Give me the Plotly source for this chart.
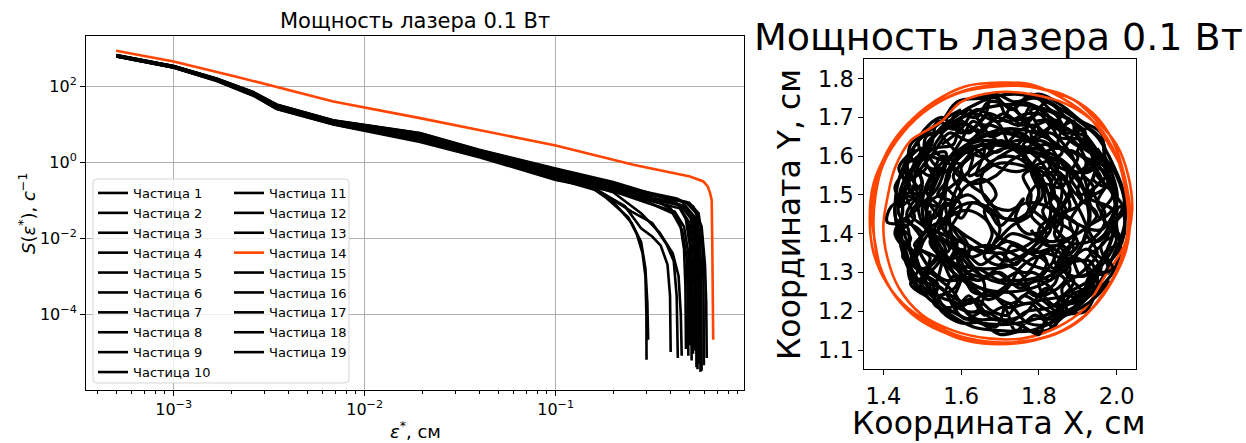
import plotly.graph_objects as go

W, H = 1246, 443
BLACK = "#000000"
ORANGE = "#ff4500"
FONT = "DejaVu Sans"

NAMES = ["Частица %d" % i for i in range(1, 20)]
HIGHLIGHT = 14

# ---------------- S(eps) curves ----------------
EPS_BULK = [5.0e-4, 1.0e-3, 1.68e-3, 2.61e-3, 3.46e-3, 6.85e-3, 1.95e-2, 3.98e-2, 1.0e-1]

S_BULK_1 = [650, 335, 155, 68, 32, 12.3, 5.6, 2.0, 0.62]
S_BULK_2 = [610, 310, 140, 58, 26, 10.2, 3.85, 1.48, 0.40]
S_BULK_3 = [640, 330, 152, 66, 30.5, 11.8, 5.15, 1.86, 0.56]
S_BULK_4 = [600, 305, 136, 56, 25, 9.8, 3.4, 1.35, 0.34]
S_BULK_5 = [660, 340, 158, 70, 33, 12.6, 5.8, 2.1, 0.68]
S_BULK_6 = [620, 318, 145, 61, 27.5, 10.8, 4.27, 1.63, 0.46]
S_BULK_7 = [635, 326, 150, 64, 29.5, 11.5, 4.93, 1.82, 0.53]
S_BULK_8 = [615, 312, 142, 60, 27, 10.5, 4.05, 1.54, 0.40]
S_BULK_9 = [645, 332, 153, 67, 31, 12.0, 5.36, 1.93, 0.59]
S_BULK_10 = [625, 320, 146, 62, 28, 11.0, 4.5, 1.69, 0.50]
S_BULK_11 = [655, 338, 156, 69, 32.5, 12.4, 5.7, 2.04, 0.65]
S_BULK_12 = [605, 308, 138, 57, 25.5, 10.0, 3.62, 1.41, 0.37]
S_BULK_13 = [630, 322, 148, 63, 29, 11.2, 4.7, 1.76, 0.50]
S_BULK_15 = [612, 314, 143, 59, 26.5, 10.4, 3.95, 1.52, 0.43]
S_BULK_16 = [642, 331, 151, 65, 30, 11.7, 5.04, 1.88, 0.56]
S_BULK_17 = [618, 316, 144, 60.5, 27.2, 10.6, 4.16, 1.59, 0.45]
S_BULK_18 = [648, 334, 154, 67.5, 31.5, 12.1, 5.47, 1.97, 0.62]
S_BULK_19 = [628, 321, 147, 62.5, 28.5, 11.1, 4.53, 1.71, 0.50]

TAIL_EPS_1 = [0.2, 0.3, 0.4, 0.45, 0.47, 0.478, 0.481]
TAIL_S_1 = [0.26, 0.13, 0.06, 0.022, 0.005, 5e-4, 1.2e-5]
TAIL_EPS_2 = [0.2, 0.3, 0.41, 0.46, 0.485, 0.492, 0.495]
TAIL_S_2 = [0.19, 0.09, 0.045, 0.016, 0.003, 3e-4, 8e-6]
TAIL_EPS_3 = [0.14, 0.182, 0.24, 0.266, 0.285, 0.295, 0.2985, 0.299]
TAIL_S_3 = [0.3, 0.12, 0.035, 0.0126, 0.004, 1e-3, 1e-4, 6.3e-6]
TAIL_EPS_4 = [0.2, 0.3, 0.42, 0.47, 0.495, 0.502, 0.505]
TAIL_S_4 = [0.17, 0.085, 0.05, 0.02, 0.004, 4e-4, 1.5e-5]
TAIL_EPS_5 = [0.2, 0.3, 0.43, 0.48, 0.505, 0.512, 0.515]
TAIL_S_5 = [0.30, 0.16, 0.085, 0.032, 0.006, 6e-4, 6e-6]
TAIL_EPS_6 = [0.16, 0.23, 0.28, 0.32, 0.355, 0.385, 0.397, 0.40]
TAIL_S_6 = [0.2, 0.07, 0.018, 0.011, 0.0063, 0.002, 3e-4, 1e-5]
TAIL_EPS_7 = [0.2, 0.3, 0.44, 0.49, 0.513, 0.521, 0.524]
TAIL_S_7 = [0.24, 0.13, 0.075, 0.028, 0.005, 4e-4, 9e-6]
TAIL_EPS_8 = [0.2, 0.3, 0.45, 0.5, 0.525, 0.533, 0.536]
TAIL_S_8 = [0.19, 0.10, 0.06, 0.026, 0.006, 5e-4, 1.1e-5]
TAIL_EPS_9 = [0.14, 0.2, 0.25, 0.28, 0.295, 0.302, 0.305]
TAIL_S_9 = [0.3, 0.09, 0.025, 0.0079, 0.0016, 2e-4, 2.1e-5]
TAIL_EPS_10 = [0.2, 0.3, 0.45, 0.51, 0.535, 0.543, 0.546]
TAIL_S_10 = [0.23, 0.125, 0.075, 0.033, 0.007, 6e-4, 4e-6]
TAIL_EPS_11 = [0.2, 0.3, 0.46, 0.52, 0.542, 0.55, 0.553]
TAIL_S_11 = [0.28, 0.155, 0.09, 0.04, 0.008, 7e-4, 3.5e-6]
TAIL_EPS_12 = [0.17, 0.25, 0.32, 0.38, 0.415, 0.43, 0.436]
TAIL_S_12 = [0.17, 0.05, 0.025, 0.007, 0.0025, 3e-4, 7e-6]
TAIL_EPS_13 = [0.2, 0.3, 0.47, 0.53, 0.551, 0.559, 0.562]
TAIL_S_13 = [0.22, 0.12, 0.07, 0.033, 0.007, 6e-4, 5e-6]
TAIL_EPS_15 = [0.2, 0.3, 0.48, 0.54, 0.562, 0.57, 0.573]
TAIL_S_15 = [0.2, 0.11, 0.068, 0.034, 0.008, 7e-4, 3e-6]
TAIL_EPS_16 = [0.2, 0.3, 0.48, 0.545, 0.57, 0.578, 0.581]
TAIL_S_16 = [0.27, 0.15, 0.09, 0.045, 0.01, 8e-4, 3.2e-6]
TAIL_EPS_17 = [0.2, 0.28, 0.35, 0.41, 0.44, 0.452, 0.457]
TAIL_S_17 = [0.16, 0.045, 0.014, 0.004, 0.001, 1e-4, 8e-6]
TAIL_EPS_18 = [0.2, 0.3, 0.5, 0.56, 0.585, 0.594, 0.597]
TAIL_S_18 = [0.26, 0.15, 0.085, 0.045, 0.01, 8e-4, 4.5e-6]
TAIL_EPS_19 = [0.2, 0.3, 0.43, 0.525, 0.581, 0.605, 0.614, 0.618]
TAIL_S_19 = [0.25, 0.16, 0.11, 0.068, 0.02, 2e-3, 2e-4, 7e-6]

EPS_14 = [5.0e-4, 1.0e-3, 2.05e-3, 3.46e-3, 6.85e-3, 1.95e-2, 1.0e-1, 2.55e-1,
          5.05e-1, 5.93e-1, 6.25e-1, 6.43e-1, 6.56e-1, 6.60e-1, 6.64e-1, 6.68e-1]
S_14 = [851, 447, 186, 93, 39.4, 14.4, 2.75, 0.85,
        0.42, 0.31, 0.23, 0.155, 0.1, 1.0e-2, 1.0e-3, 2.1e-5]

# ---------------- trajectories (x, y), cm ----------------
TRAJ_1 = [(2.00, 1.45), (1.98, 1.55), (1.94, 1.63), (1.87, 1.70), (1.78, 1.73), (1.69, 1.73),
          (1.60, 1.70), (1.52, 1.64), (1.47, 1.56), (1.45, 1.47), (1.45, 1.37), (1.49, 1.28),
          (1.56, 1.21), (1.65, 1.17), (1.75, 1.17), (1.84, 1.20), (1.92, 1.26), (1.97, 1.34),
          (2.00, 1.44), (1.99, 1.53), (1.95, 1.60), (1.90, 1.65), (1.89, 1.69), (1.84, 1.67),
          (1.80, 1.71), (1.76, 1.68), (1.71, 1.71), (1.66, 1.68), (1.62, 1.72), (1.58, 1.67),
          (1.54, 1.69), (1.52, 1.62), (1.48, 1.59), (1.50, 1.53), (1.46, 1.50), (1.48, 1.44),
          (1.44, 1.40), (1.48, 1.35), (1.50, 1.30), (1.54, 1.27), (1.53, 1.22), (1.58, 1.20),
          (1.62, 1.24), (1.66, 1.19), (1.71, 1.21), (1.74, 1.15), (1.79, 1.19), (1.84, 1.16),
          (1.86, 1.22), (1.91, 1.23), (1.93, 1.29), (1.98, 1.30), (1.96, 1.37), (2.01, 1.40)]
TRAJ_2 = [(1.55, 1.66), (1.63, 1.71), (1.70, 1.69), (1.74, 1.74), (1.82, 1.71), (1.85, 1.65),
          (1.92, 1.64), (1.95, 1.57), (1.92, 1.50), (1.99, 1.46), (1.97, 1.38), (1.92, 1.33),
          (1.94, 1.25), (1.87, 1.22), (1.82, 1.26), (1.76, 1.19), (1.68, 1.18), (1.63, 1.23),
          (1.56, 1.21), (1.52, 1.28), (1.47, 1.33), (1.50, 1.40), (1.44, 1.45), (1.46, 1.53),
          (1.51, 1.57), (1.49, 1.64), (1.55, 1.70), (1.60, 1.66), (1.66, 1.70), (1.68, 1.76),
          (1.73, 1.72), (1.78, 1.76), (1.83, 1.72), (1.89, 1.68), (1.86, 1.62), (1.80, 1.64),
          (1.76, 1.60), (1.80, 1.55), (1.85, 1.56), (1.88, 1.50), (1.84, 1.44), (1.89, 1.40),
          (1.86, 1.34), (1.81, 1.35), (1.77, 1.30), (1.71, 1.32), (1.66, 1.29), (1.60, 1.31),
          (1.58, 1.37), (1.53, 1.40), (1.55, 1.46), (1.51, 1.51), (1.55, 1.57)]
TRAJ_3 = [(1.82, 1.47), (1.80, 1.55), (1.75, 1.61), (1.67, 1.63), (1.59, 1.61), (1.53, 1.56),
          (1.50, 1.48), (1.52, 1.39), (1.57, 1.33), (1.65, 1.31), (1.73, 1.32), (1.79, 1.37),
          (1.83, 1.45), (1.81, 1.54), (1.76, 1.60), (1.68, 1.64), (1.60, 1.62), (1.54, 1.55),
          (1.51, 1.46), (1.54, 1.38), (1.58, 1.32), (1.63, 1.27), (1.69, 1.25), (1.74, 1.28),
          (1.79, 1.24), (1.84, 1.27), (1.86, 1.33), (1.90, 1.37), (1.88, 1.43), (1.91, 1.49),
          (1.88, 1.55), (1.90, 1.60), (1.84, 1.63), (1.79, 1.68), (1.73, 1.66), (1.67, 1.68),
          (1.62, 1.64), (1.57, 1.66), (1.53, 1.61), (1.49, 1.56)]
TRAJ_4 = [(1.84, 1.50), (1.81, 1.58), (1.74, 1.63), (1.66, 1.63), (1.59, 1.59), (1.56, 1.51),
          (1.57, 1.43), (1.62, 1.37), (1.70, 1.35), (1.77, 1.37), (1.83, 1.43), (1.86, 1.51),
          (1.83, 1.59), (1.77, 1.64), (1.70, 1.66), (1.62, 1.63), (1.57, 1.57), (1.55, 1.49),
          (1.52, 1.42), (1.55, 1.35), (1.51, 1.30), (1.56, 1.25), (1.62, 1.22), (1.67, 1.25),
          (1.72, 1.21), (1.78, 1.22), (1.82, 1.18), (1.87, 1.20), (1.86, 1.26), (1.91, 1.30),
          (1.95, 1.35), (1.92, 1.41), (1.97, 1.45), (1.94, 1.51), (1.98, 1.56), (1.93, 1.61),
          (1.88, 1.64), (1.85, 1.69), (1.79, 1.69)]
TRAJ_5 = [(1.52, 1.46), (1.53, 1.37), (1.58, 1.30), (1.65, 1.26), (1.73, 1.25), (1.81, 1.27),
          (1.88, 1.32), (1.92, 1.40), (1.93, 1.48), (1.91, 1.56), (1.86, 1.62), (1.79, 1.66),
          (1.71, 1.67), (1.63, 1.64), (1.57, 1.59), (1.53, 1.52), (1.51, 1.44), (1.54, 1.35),
          (1.50, 1.31), (1.47, 1.36), (1.45, 1.43), (1.49, 1.47), (1.46, 1.53), (1.49, 1.58),
          (1.53, 1.62), (1.58, 1.63), (1.60, 1.69), (1.65, 1.66), (1.69, 1.70), (1.75, 1.68),
          (1.78, 1.73), (1.84, 1.69), (1.89, 1.66), (1.93, 1.62), (1.95, 1.55), (1.99, 1.50),
          (1.96, 1.45), (2.00, 1.39), (1.97, 1.33), (1.93, 1.28), (1.88, 1.25), (1.83, 1.21),
          (1.77, 1.20), (1.72, 1.17), (1.66, 1.20), (1.61, 1.18), (1.57, 1.23)]
TRAJ_6 = [(1.47, 1.60), (1.50, 1.52), (1.46, 1.45), (1.50, 1.38), (1.47, 1.30), (1.53, 1.27),
          (1.56, 1.34), (1.60, 1.29), (1.58, 1.22), (1.64, 1.20), (1.66, 1.27), (1.62, 1.33),
          (1.57, 1.40), (1.60, 1.47), (1.56, 1.53), (1.59, 1.60), (1.55, 1.66), (1.62, 1.68),
          (1.66, 1.62), (1.64, 1.55), (1.69, 1.58), (1.74, 1.58), (1.79, 1.56), (1.81, 1.50),
          (1.78, 1.45), (1.82, 1.40), (1.78, 1.35), (1.73, 1.37), (1.70, 1.32), (1.66, 1.34),
          (1.68, 1.40), (1.66, 1.46), (1.69, 1.50), (1.66, 1.54), (1.61, 1.52), (1.58, 1.47),
          (1.55, 1.42), (1.59, 1.38), (1.57, 1.33), (1.60, 1.36), (1.65, 1.32), (1.70, 1.35),
          (1.74, 1.32), (1.78, 1.36), (1.82, 1.33), (1.80, 1.29), (1.75, 1.28), (1.70, 1.28)]
TRAJ_7 = [(1.88, 1.70), (1.85, 1.63), (1.91, 1.60), (1.96, 1.54), (1.90, 1.50), (1.86, 1.55),
          (1.83, 1.48), (1.89, 1.43), (1.96, 1.41), (2.01, 1.47), (2.02, 1.40), (1.98, 1.33),
          (1.92, 1.36), (1.87, 1.30), (1.91, 1.25), (1.85, 1.21), (1.80, 1.27), (1.84, 1.34),
          (1.80, 1.41), (1.85, 1.45), (1.90, 1.47), (1.94, 1.52), (1.91, 1.56), (1.95, 1.60),
          (1.92, 1.65), (1.87, 1.67), (1.84, 1.71), (1.78, 1.72), (1.80, 1.66), (1.76, 1.63),
          (1.82, 1.60), (1.87, 1.58), (1.86, 1.52), (1.80, 1.53), (1.77, 1.48), (1.81, 1.44),
          (1.86, 1.39), (1.84, 1.33), (1.89, 1.29), (1.95, 1.31), (1.99, 1.36)]
TRAJ_8 = [(1.55, 1.63), (1.60, 1.67), (1.64, 1.72), (1.70, 1.68), (1.73, 1.62), (1.77, 1.67),
          (1.74, 1.73), (1.80, 1.75), (1.86, 1.71), (1.82, 1.66), (1.86, 1.61), (1.80, 1.58),
          (1.74, 1.56), (1.68, 1.58), (1.63, 1.62), (1.58, 1.57), (1.63, 1.53), (1.69, 1.55),
          (1.73, 1.59), (1.78, 1.61), (1.83, 1.58), (1.80, 1.53), (1.85, 1.48), (1.83, 1.42),
          (1.77, 1.40), (1.74, 1.44), (1.76, 1.49), (1.70, 1.42), (1.67, 1.46), (1.63, 1.48),
          (1.60, 1.44), (1.56, 1.48), (1.53, 1.44), (1.50, 1.48), (1.48, 1.54), (1.51, 1.60),
          (1.56, 1.59), (1.60, 1.64), (1.63, 1.69), (1.67, 1.66), (1.71, 1.63), (1.75, 1.66),
          (1.80, 1.62), (1.84, 1.56), (1.88, 1.52), (1.86, 1.46), (1.90, 1.42), (1.87, 1.38),
          (1.82, 1.37), (1.78, 1.41)]
TRAJ_9 = [(1.52, 1.30), (1.58, 1.25), (1.62, 1.19), (1.69, 1.16), (1.72, 1.22), (1.77, 1.17),
          (1.83, 1.17), (1.85, 1.23), (1.80, 1.28), (1.75, 1.26), (1.70, 1.30), (1.64, 1.28),
          (1.60, 1.34), (1.67, 1.37), (1.73, 1.35), (1.78, 1.32), (1.86, 1.29), (1.90, 1.24),
          (1.94, 1.29), (1.89, 1.34), (1.84, 1.31), (1.80, 1.34), (1.75, 1.31), (1.72, 1.26),
          (1.67, 1.23), (1.63, 1.26), (1.58, 1.29), (1.55, 1.24), (1.51, 1.27), (1.53, 1.33),
          (1.57, 1.36), (1.54, 1.41), (1.58, 1.45), (1.62, 1.46), (1.66, 1.44), (1.70, 1.39),
          (1.75, 1.37), (1.80, 1.34), (1.85, 1.37), (1.88, 1.33), (1.93, 1.33), (1.95, 1.27),
          (1.89, 1.22)]
TRAJ_10 = [(1.46, 1.50), (1.55, 1.47), (1.62, 1.50), (1.68, 1.45), (1.75, 1.44), (1.80, 1.50),
           (1.78, 1.57), (1.84, 1.62), (1.92, 1.59), (1.90, 1.50), (1.95, 1.45), (1.88, 1.39),
           (1.80, 1.38), (1.73, 1.40), (1.68, 1.36), (1.62, 1.39), (1.55, 1.43), (1.49, 1.38),
           (1.52, 1.31), (1.56, 1.28), (1.61, 1.28), (1.66, 1.24), (1.72, 1.25), (1.76, 1.22),
           (1.81, 1.23), (1.86, 1.24), (1.89, 1.28), (1.85, 1.32), (1.88, 1.37), (1.93, 1.38),
           (1.97, 1.43), (1.95, 1.48), (1.98, 1.54), (1.96, 1.58), (1.91, 1.56), (1.88, 1.61),
           (1.83, 1.66), (1.78, 1.64), (1.73, 1.67), (1.68, 1.65), (1.64, 1.67)]
TRAJ_11 = [(1.60, 1.72), (1.52, 1.67), (1.47, 1.61), (1.44, 1.54), (1.43, 1.46), (1.44, 1.39),
           (1.46, 1.32), (1.50, 1.25), (1.56, 1.20), (1.63, 1.16), (1.70, 1.15), (1.78, 1.15),
           (1.85, 1.18), (1.91, 1.22), (1.96, 1.28), (1.99, 1.34), (2.02, 1.42), (2.02, 1.50),
           (1.99, 1.58), (1.95, 1.65), (1.89, 1.70), (1.82, 1.74), (1.74, 1.76), (1.66, 1.75),
           (1.59, 1.74), (1.55, 1.69), (1.51, 1.66), (1.47, 1.63), (1.46, 1.57), (1.43, 1.52),
           (1.45, 1.46), (1.43, 1.40), (1.46, 1.35), (1.47, 1.28), (1.52, 1.25), (1.55, 1.20),
           (1.60, 1.17), (1.65, 1.17), (1.70, 1.14), (1.76, 1.15), (1.82, 1.15), (1.87, 1.19),
           (1.92, 1.20), (1.95, 1.25), (1.99, 1.30), (2.01, 1.36), (2.00, 1.43), (2.02, 1.48),
           (2.00, 1.55), (1.97, 1.60), (1.96, 1.66), (1.91, 1.69), (1.86, 1.73), (1.80, 1.76),
           (1.74, 1.74), (1.69, 1.76), (1.63, 1.75)]
TRAJ_12 = [(1.93, 1.44), (1.91, 1.53), (1.86, 1.59), (1.79, 1.62), (1.71, 1.62), (1.64, 1.58),
           (1.59, 1.52), (1.57, 1.44), (1.59, 1.36), (1.64, 1.30), (1.72, 1.27), (1.80, 1.28),
           (1.87, 1.32), (1.92, 1.39), (1.93, 1.47), (1.89, 1.55), (1.84, 1.58), (1.80, 1.63),
           (1.74, 1.64), (1.69, 1.61), (1.65, 1.63), (1.61, 1.59), (1.58, 1.55), (1.60, 1.50),
           (1.55, 1.46), (1.56, 1.40), (1.61, 1.37), (1.59, 1.31), (1.64, 1.28), (1.69, 1.30),
           (1.74, 1.27), (1.78, 1.30), (1.83, 1.28), (1.85, 1.33), (1.89, 1.36), (1.84, 1.42),
           (1.88, 1.47), (1.85, 1.53), (1.81, 1.57), (1.76, 1.55), (1.78, 1.50), (1.76, 1.44),
           (1.71, 1.44), (1.66, 1.50), (1.62, 1.53), (1.60, 1.57), (1.64, 1.61), (1.69, 1.63)]
TRAJ_13 = [(1.50, 1.58), (1.56, 1.56), (1.60, 1.61), (1.66, 1.60), (1.70, 1.64), (1.76, 1.61),
           (1.82, 1.63), (1.87, 1.57), (1.93, 1.56), (1.97, 1.62), (1.93, 1.67), (1.87, 1.66),
           (1.83, 1.70), (1.77, 1.71), (1.72, 1.69), (1.67, 1.71), (1.62, 1.66), (1.57, 1.69),
           (1.53, 1.65), (1.50, 1.60), (1.47, 1.55), (1.50, 1.50), (1.47, 1.45), (1.51, 1.41),
           (1.48, 1.37), (1.52, 1.34), (1.50, 1.28), (1.55, 1.26), (1.59, 1.21), (1.64, 1.23),
           (1.68, 1.20), (1.72, 1.19), (1.76, 1.24), (1.81, 1.21), (1.85, 1.19), (1.88, 1.24),
           (1.92, 1.26), (1.96, 1.31), (1.93, 1.36), (1.97, 1.40), (1.99, 1.45)]
TRAJ_14 = [(2.03, 1.45), (2.02, 1.55), (1.98, 1.63), (1.93, 1.70), (1.86, 1.75), (1.78, 1.785),
           (1.70, 1.79), (1.61, 1.78), (1.53, 1.74), (1.46, 1.68), (1.41, 1.61), (1.375, 1.53),
           (1.365, 1.44), (1.375, 1.35), (1.41, 1.27), (1.46, 1.21), (1.53, 1.16), (1.61, 1.125),
           (1.70, 1.115), (1.79, 1.125), (1.87, 1.155), (1.94, 1.21), (1.99, 1.28), (2.025, 1.36),
           (2.035, 1.45), (2.02, 1.55), (1.99, 1.64), (1.94, 1.71), (1.86, 1.76), (1.77, 1.78),
           (1.69, 1.78), (1.60, 1.765), (1.52, 1.725), (1.45, 1.66), (1.40, 1.58), (1.38, 1.50),
           (1.375, 1.41), (1.39, 1.32), (1.43, 1.24), (1.49, 1.18), (1.57, 1.14), (1.66, 1.12),
           (1.75, 1.12), (1.84, 1.14), (1.91, 1.18), (1.97, 1.25), (2.01, 1.33), (2.03, 1.42),
           (2.025, 1.50), (2.00, 1.60), (1.95, 1.68), (1.87, 1.735), (1.78, 1.76), (1.69, 1.765),
           (1.60, 1.74), (1.55, 1.69), (1.50, 1.66), (1.47, 1.64), (1.43, 1.57), (1.41, 1.49),
           (1.40, 1.42), (1.41, 1.34), (1.44, 1.26), (1.50, 1.19), (1.58, 1.15), (1.67, 1.13),
           (1.76, 1.13), (1.85, 1.16), (1.92, 1.21), (1.97, 1.29), (2.02, 1.37), (2.04, 1.46),
           (2.03, 1.55), (2.00, 1.63), (1.95, 1.69), (1.89, 1.745), (1.80, 1.775), (1.72, 1.785),
           (1.63, 1.775), (1.55, 1.745), (1.48, 1.70), (1.42, 1.63), (1.385, 1.55), (1.37, 1.46),
           (1.38, 1.37), (1.40, 1.29), (1.45, 1.22), (1.52, 1.17), (1.60, 1.135), (1.69, 1.12),
           (1.78, 1.125), (1.86, 1.15), (1.93, 1.20), (1.98, 1.27)]
TRAJ_15 = [(1.49, 1.36), (1.55, 1.33), (1.58, 1.28), (1.64, 1.31), (1.70, 1.28), (1.75, 1.30),
           (1.79, 1.24), (1.85, 1.26), (1.88, 1.31), (1.84, 1.36), (1.78, 1.35), (1.72, 1.38),
           (1.66, 1.35), (1.60, 1.38), (1.55, 1.40), (1.50, 1.43), (1.48, 1.49), (1.44, 1.47),
           (1.45, 1.53), (1.48, 1.57), (1.52, 1.55), (1.55, 1.60), (1.60, 1.58), (1.63, 1.60),
           (1.62, 1.55), (1.66, 1.57), (1.70, 1.60), (1.75, 1.62), (1.78, 1.58), (1.82, 1.55),
           (1.84, 1.50), (1.81, 1.46), (1.83, 1.41), (1.79, 1.37), (1.75, 1.34), (1.71, 1.33),
           (1.68, 1.36), (1.70, 1.41), (1.68, 1.46), (1.63, 1.48), (1.58, 1.46), (1.56, 1.41),
           (1.58, 1.36), (1.63, 1.34), (1.68, 1.37), (1.73, 1.42), (1.78, 1.45), (1.80, 1.52),
           (1.77, 1.58), (1.72, 1.60), (1.67, 1.58), (1.65, 1.53), (1.67, 1.48), (1.72, 1.46),
           (1.77, 1.48), (1.82, 1.47), (1.86, 1.43), (1.84, 1.38), (1.79, 1.40)]
TRAJ_16 = [(1.95, 1.62), (1.99, 1.55), (2.00, 1.48), (1.96, 1.44), (1.93, 1.49), (1.97, 1.52),
           (1.93, 1.57), (1.88, 1.53), (1.91, 1.45), (1.95, 1.38), (1.99, 1.41), (1.96, 1.33),
           (1.91, 1.29), (1.88, 1.35), (1.84, 1.40), (1.87, 1.46), (1.83, 1.52), (1.85, 1.58),
           (1.81, 1.61), (1.78, 1.66), (1.82, 1.69), (1.86, 1.66), (1.90, 1.63), (1.93, 1.58),
           (1.97, 1.56), (1.99, 1.51), (2.02, 1.46), (1.99, 1.42), (2.01, 1.38), (1.97, 1.35),
           (1.99, 1.31), (1.94, 1.29), (1.92, 1.24), (1.87, 1.24)]
TRAJ_17 = [(1.48, 1.62), (1.45, 1.55), (1.49, 1.50), (1.53, 1.54), (1.51, 1.59), (1.56, 1.61),
           (1.54, 1.52), (1.48, 1.46), (1.44, 1.41), (1.48, 1.35), (1.52, 1.40), (1.56, 1.36),
           (1.52, 1.30), (1.48, 1.27), (1.54, 1.24), (1.59, 1.27), (1.57, 1.33), (1.62, 1.35),
           (1.60, 1.40), (1.55, 1.44), (1.52, 1.48), (1.56, 1.51), (1.60, 1.55), (1.57, 1.58),
           (1.53, 1.62), (1.55, 1.66), (1.50, 1.65), (1.47, 1.61), (1.44, 1.57), (1.46, 1.52),
           (1.43, 1.47), (1.44, 1.42), (1.47, 1.39), (1.45, 1.34), (1.49, 1.31), (1.47, 1.27),
           (1.51, 1.24)]
TRAJ_18 = [(1.48, 1.55), (1.51, 1.63), (1.57, 1.69), (1.63, 1.73), (1.69, 1.75), (1.72, 1.70),
           (1.78, 1.70), (1.82, 1.74), (1.87, 1.70), (1.92, 1.66), (1.90, 1.61), (1.95, 1.58),
           (1.98, 1.52), (1.94, 1.54), (1.96, 1.60), (1.92, 1.62), (1.89, 1.66), (1.84, 1.68),
           (1.80, 1.66), (1.76, 1.70), (1.72, 1.73), (1.67, 1.74), (1.64, 1.70), (1.59, 1.71),
           (1.56, 1.67), (1.51, 1.65), (1.50, 1.60), (1.46, 1.58), (1.47, 1.52)]
TRAJ_19 = [(1.97, 1.35), (1.94, 1.27), (1.89, 1.21), (1.82, 1.18), (1.80, 1.14), (1.76, 1.16),
           (1.70, 1.18), (1.64, 1.18), (1.59, 1.22), (1.54, 1.24), (1.50, 1.29), (1.47, 1.35),
           (1.46, 1.42), (1.41, 1.43), (1.42, 1.47), (1.45, 1.49), (1.48, 1.53), (1.46, 1.58),
           (1.50, 1.62), (1.53, 1.58), (1.57, 1.55), (1.54, 1.50), (1.58, 1.48), (1.56, 1.43),
           (1.52, 1.38), (1.56, 1.33), (1.60, 1.30), (1.63, 1.25), (1.68, 1.24), (1.73, 1.22),
           (1.78, 1.25), (1.82, 1.22), (1.86, 1.19), (1.91, 1.21), (1.95, 1.24), (1.98, 1.28)]

TRAJ = [TRAJ_1, TRAJ_2, TRAJ_3, TRAJ_4, TRAJ_5, TRAJ_6, TRAJ_7, TRAJ_8, TRAJ_9, TRAJ_10,
        TRAJ_11, TRAJ_12, TRAJ_13, TRAJ_14, TRAJ_15, TRAJ_16, TRAJ_17, TRAJ_18, TRAJ_19]

S_BULK = {1: S_BULK_1, 2: S_BULK_2, 3: S_BULK_3, 4: S_BULK_4, 5: S_BULK_5, 6: S_BULK_6,
          7: S_BULK_7, 8: S_BULK_8, 9: S_BULK_9, 10: S_BULK_10, 11: S_BULK_11, 12: S_BULK_12,
          13: S_BULK_13, 15: S_BULK_15, 16: S_BULK_16, 17: S_BULK_17, 18: S_BULK_18, 19: S_BULK_19}
TAIL_EPS = {1: TAIL_EPS_1, 2: TAIL_EPS_2, 3: TAIL_EPS_3, 4: TAIL_EPS_4, 5: TAIL_EPS_5,
            6: TAIL_EPS_6, 7: TAIL_EPS_7, 8: TAIL_EPS_8, 9: TAIL_EPS_9, 10: TAIL_EPS_10,
            11: TAIL_EPS_11, 12: TAIL_EPS_12, 13: TAIL_EPS_13, 15: TAIL_EPS_15,
            16: TAIL_EPS_16, 17: TAIL_EPS_17, 18: TAIL_EPS_18, 19: TAIL_EPS_19}
TAIL_S = {1: TAIL_S_1, 2: TAIL_S_2, 3: TAIL_S_3, 4: TAIL_S_4, 5: TAIL_S_5, 6: TAIL_S_6,
          7: TAIL_S_7, 8: TAIL_S_8, 9: TAIL_S_9, 10: TAIL_S_10, 11: TAIL_S_11, 12: TAIL_S_12,
          13: TAIL_S_13, 15: TAIL_S_15, 16: TAIL_S_16, 17: TAIL_S_17, 18: TAIL_S_18, 19: TAIL_S_19}

# ---------------- figure ----------------
fig = go.Figure()

for i in range(1, 20):
    color = ORANGE if i == HIGHLIGHT else BLACK
    if i == HIGHLIGHT:
        eps, s = EPS_14, S_14
    else:
        eps, s = EPS_BULK + TAIL_EPS[i], S_BULK[i] + TAIL_S[i]
    fig.add_trace(go.Scatter(
        x=eps, y=s, mode="lines", name=NAMES[i - 1],
        line=dict(color=color, width=2.6),
        legend="legend" if i <= 10 else "legend2",
        xaxis="x", yaxis="y",
    ))

for i in range(1, 20):
    color = ORANGE if i == HIGHLIGHT else BLACK
    xs, ys = zip(*TRAJ[i - 1])
    fig.add_trace(go.Scatter(
        x=list(xs), y=list(ys), mode="lines", showlegend=False,
        line=dict(color=color, width=3.2 if i != HIGHLIGHT else 2.6,
                  shape="spline", smoothing=1.0),
        xaxis="x2", yaxis="y2",
    ))

def px(x):
    return x / W

def py(y):
    return 1 - y / H

MINOR = [m * 10.0 ** e for e in (-4, -3, -2, -1) for m in range(2, 10)]

axis_common = dict(showline=True, linecolor="#000", linewidth=1, mirror=True,
                   ticks="outside", ticklen=5, tickwidth=1, tickcolor="#000",
                   zeroline=False)

fig.update_layout(
    width=W, height=H,
    margin=dict(l=0, r=0, t=0, b=0),
    paper_bgcolor="white", plot_bgcolor="white",
    font=dict(family=FONT, color="#000"),
    xaxis=dict(type="log", range=[-3.459, -0.014], domain=[px(86), px(744)], anchor="y",
               showgrid=True, gridcolor="#b0b0b0", gridwidth=0.8,
               tickvals=[1e-3, 1e-2, 1e-1],
               ticktext=["10<sup>−3</sup>", "10<sup>−2</sup>", "10<sup>−1</sup>"],
               tickfont=dict(size=16),
               minor=dict(tickvals=MINOR, ticks="outside", ticklen=3, tickwidth=0.8,
                          tickcolor="#000", showgrid=False),
               **axis_common),
    yaxis=dict(type="log", range=[-6.0, 3.32], domain=[py(390), py(36)], anchor="x",
               showgrid=True, gridcolor="#b0b0b0", gridwidth=0.8,
               tickvals=[1e-4, 1e-2, 1e0, 1e2],
               ticktext=["10<sup>−4</sup>", "10<sup>−2</sup>", "10<sup>0</sup>", "10<sup>2</sup>"],
               tickfont=dict(size=16),
               **axis_common),
    xaxis2=dict(range=[1.351, 2.05], domain=[px(864.3), px(1136)], anchor="y2",
                showgrid=False, tickvals=[1.4, 1.6, 1.8, 2.0],
                ticktext=["1.4", "1.6", "1.8", "2.0"], tickfont=dict(size=22.5),
                ticklabelstandoff=2,
                **axis_common),
    yaxis2=dict(range=[1.051, 1.85], domain=[py(369), py(59.3)], anchor="x2",
                showgrid=False, tickvals=[1.1, 1.2, 1.3, 1.4, 1.5, 1.6, 1.7, 1.8],
                ticktext=["1.1", "1.2", "1.3", "1.4", "1.5", "1.6", "1.7", "1.8"],
                tickfont=dict(size=22.5),
                **axis_common),
    legend=dict(x=px(93), y=py(178), xanchor="left", yanchor="top",
                bgcolor="rgba(0,0,0,0)", borderwidth=0,
                font=dict(size=13, color="#000", family=FONT)),
    legend2=dict(x=px(229), y=py(178), xanchor="left", yanchor="top",
                 bgcolor="rgba(0,0,0,0)", borderwidth=0,
                 font=dict(size=13, color="#000", family=FONT)),
)

# legend frame with rounded corners
x0, x1 = px(93), px(349)
y0, y1 = py(383), py(179)
rx, ry = 4 / W, 4 / H
frame = (f"M{x0 + rx},{y1} L{x1 - rx},{y1} Q{x1},{y1} {x1},{y1 - ry} "
         f"L{x1},{y0 + ry} Q{x1},{y0} {x1 - rx},{y0} L{x0 + rx},{y0} "
         f"Q{x0},{y0} {x0},{y0 + ry} L{x0},{y1 - ry} Q{x0},{y1} {x0 + rx},{y1} Z")
fig.add_shape(type="path", path=frame, xref="paper", yref="paper",
              fillcolor="rgba(255,255,255,0.8)", line=dict(color="#d5d5d5", width=1),
              layer="above")

TITLE = "Мощность лазера 0.1 Вт"
annotations = [
    dict(text=TITLE, x=px(415), y=py(21), font=dict(size=21)),
    dict(text=TITLE, x=px(998.5), y=py(37), font=dict(size=38)),
    dict(text="<i>ε</i><sup>*</sup>, см", x=px(415), y=py(430), font=dict(size=18)),
    dict(text="<i>S</i>(<i>ε</i><sup>*</sup>), <i>c</i><sup>−1</sup>", x=px(27), y=py(213),
         font=dict(size=18), textangle=-90),
    dict(text="Координата X, см", x=px(998), y=py(423), font=dict(size=31.5)),
    dict(text="Координата Y, см", x=px(789), y=py(215), font=dict(size=31.5), textangle=-90),
]
for a in annotations:
    fig.add_annotation(xref="paper", yref="paper", xanchor="center", yanchor="middle",
                       showarrow=False, **a)

fig.write_html("out.html")
